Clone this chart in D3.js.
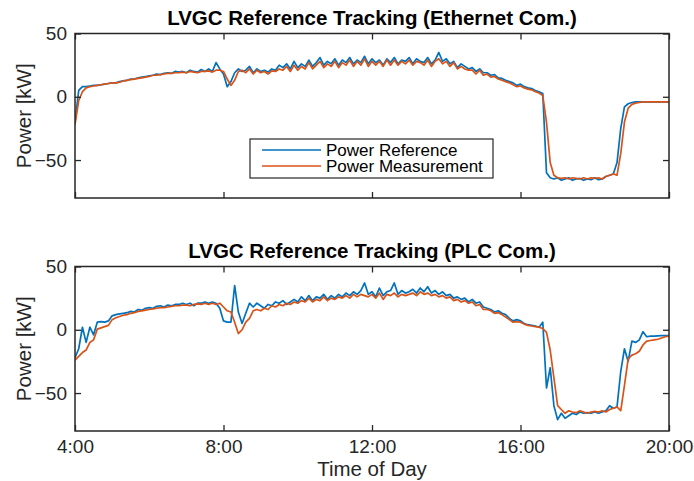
<!DOCTYPE html>
<html>
<head>
<meta charset="utf-8">
<script src="https://cdn.jsdelivr.net/npm/d3@7"></script>
<style>
  body { margin: 0; background: #fff; }
  text { font-family: "Liberation Sans", Arial, sans-serif; }
</style>
</head>
<body>
<div id="chart"></div>
<script>
// sample times: every 6 minutes from 4:00 to 20:00 (hours)
var hours = d3.range(161).map(function (i) { return 4 + i / 10; });

var xTicks = [4, 8, 12, 16, 20];
var yTicks = [-50, 0, 50];
var seriesNames = ["Power Reference", "Power Measurement"];

// Ethernet com. panel
var refEth = [
  -20, 5, 8, 8, 8.5, 9, 9, 9.5, 10, 10.5,
  11, 11, 12, 12.5, 13, 14, 14, 15, 15.5, 16,
  16.5, 17, 18, 17.5, 18.5, 19, 18.5, 20, 19.5, 20,
  19, 21, 20, 19.5, 21.5, 20, 22, 20, 27, 22,
  18, 8, 12, 19, 22, 20, 21, 24, 19, 22,
  20, 21, 19.5, 22, 21, 25, 23, 26, 22, 28,
  23, 26, 24, 29, 24, 27, 31, 25, 28, 26,
  30, 25, 29, 27, 31, 26, 29, 27, 32, 26,
  30, 27, 29, 25, 30, 27, 31, 26, 29, 28,
  31, 26, 30, 28, 27, 31, 26, 29, 35, 28,
  30, 26, 28, 23, 26, 24, 22, 23, 20, 22,
  19, 19, 17, 17.5, 15, 14.5, 13, 12, 11, 9,
  10, 8, 7, 6.5, 5, 4, 2.5, -60, -64, -65,
  -64, -66, -65, -64, -66, -65, -64.5, -66, -65, -65.5,
  -64, -65.5, -65, -63, -62, -61, -52, -25, -8, -5.5,
  -4.5, -4, -4, -4, -4, -4, -4, -4, -4, -4,
  -4
];
var measEth = [
  -22, -3, 4, 7, 8, 8.5, 9, 9.5, 10, 10.5,
  11, 11, 11.5, 12.5, 13, 13.5, 14, 14.5, 15, 15.5,
  16, 17, 17, 17.5, 18, 18.5, 18.5, 19, 19, 19.5,
  19, 20, 19.5, 19, 20, 20, 20.5, 19.5, 21, 21,
  20, 14, 9, 13, 20, 21, 19, 22, 18, 21,
  19, 20, 18, 20.5, 20, 22, 21, 24, 20, 25,
  21, 24, 22, 27, 22, 25, 28, 23, 26, 24,
  28, 23, 27, 25, 29, 24, 28, 25, 30, 24,
  28, 25, 28, 24, 29, 25, 29, 25, 28, 26,
  29, 25, 28, 27, 25, 29, 24, 28, 30, 26,
  28, 24, 27, 22, 24, 22, 21, 21, 18, 21,
  17, 18, 15.5, 16, 14, 13, 12, 11, 9.5, 8,
  8.5, 7, 6, 5.5, 4, 3, 1, -20, -52, -62,
  -64, -64.5, -64, -65, -64, -64.5, -65, -64, -65, -64,
  -64.5, -64, -65, -63, -62, -61, -62, -45, -20, -9,
  -6, -5, -4.5, -4, -4, -4, -4, -4, -4, -4,
  -4
];

// PLC com. panel
var refPlc = [
  -22, -15, 2, -10, 2, -4, 6, 6.5, 6, 7,
  11, 12, 12.5, 13, 13.5, 14.5, 14, 16, 15.5, 17,
  17.5, 17, 18.5, 19, 18, 19.5, 19, 20, 20, 21,
  20, 21, 19, 21, 21, 22, 21, 22, 21, 17,
  7, 6, 6, 35, 14, 5, 13, 21, 18, 21,
  19, 17, 20, 19, 22, 21, 23, 20, 22, 24,
  22, 26, 23, 27, 23, 26, 25, 28, 24, 27,
  25, 28, 26, 29, 27, 30, 28, 31, 37, 28,
  30, 26, 33, 27, 30, 31, 37, 28, 31, 29,
  30, 32, 29, 33, 30, 34, 29, 31, 28, 30,
  27, 28, 25, 26, 24, 25, 22, 24, 21, 22,
  18, 17, 16, 14, 15, 13, 12, 9, 7, 8,
  7, 5, 4, 3.5, 3, 2, 6, -46, -30, -60,
  -71, -66, -70, -68, -66, -67, -65, -66, -65.5, -66,
  -65, -66, -65, -64, -60, -62, -61, -33, -15, -25,
  -9, -10, -8, -1.5, -5.5, -5, -5, -4.8, -4.7, -4.7,
  -4.7
];
var measPlc = [
  -24, -21, -18, -16, -10, -8, 0.5, 1.5, 2.5, 3.5,
  8, 9.5, 10.5, 11.5, 12, 13, 13.5, 14.5, 15, 15.5,
  16, 16.5, 17, 17.5, 17.5, 18, 18.5, 19, 19, 19.5,
  19.5, 19, 20, 20.5, 20, 21, 20, 21, 20, 21,
  18, 15, 14, 6, -3, 0, 6, 9, 15, 16,
  15, 17, 16, 19, 18, 20, 19, 21, 20, 22,
  21, 23, 22, 25, 22, 24, 23, 26, 23, 25,
  24, 26, 25, 27, 25, 28, 26, 28, 27, 26,
  28, 25, 29, 24, 28, 27, 29, 26, 28, 27,
  28, 29, 27, 30, 28, 29, 27, 28, 26, 27,
  25, 26, 23, 24, 22, 23, 21, 22, 19, 20,
  16, 16, 15, 13, 13.5, 12, 10, 8, 6, 6.5,
  6, 4.5, 3.5, 3, 2.5, 2, 1, -2, -16, -38,
  -60, -63, -66, -64, -65, -65.5, -64, -65, -66, -65,
  -64.5, -65, -64, -65, -63, -62, -61, -64, -44, -23,
  -20, -19, -17, -12, -9, -8.5, -8, -7.5, -6.5, -5.5,
  -5
];

var panels = [
  { title: "LVGC Reference Tracking (Ethernet Com.)", ref: refEth, meas: measEth, top: 33.5, showX: false, legend: true },
  { title: "LVGC Reference Tracking (PLC Com.)", ref: refPlc, meas: measPlc, top: 266.5, showX: true, legend: false }
];

var W = 694, H = 481;
var left = 75, right = 669, ph = 164.5;
var axisColor = "#262626";
var colors = ["#0072BD", "#D95319"];

var svg = d3.select("#chart").append("svg")
  .attr("width", W)
  .attr("height", H);

var x = d3.scaleLinear().domain([4, 20]).range([left, right]);

panels.forEach(function (p, k) {
  var y = d3.scaleLinear().domain([-80, 50]).range([p.top + ph, p.top]);
  var g = svg.append("g");

  g.append("clipPath").attr("id", "clip" + k)
    .append("rect").attr("x", left).attr("y", p.top).attr("width", right - left).attr("height", ph);

  var line = d3.line()
    .x(function (d, i) { return x(hours[i]); })
    .y(function (d) { return y(d); });

  [p.ref, p.meas].forEach(function (s, j) {
    g.append("path")
      .datum(s)
      .attr("clip-path", "url(#clip" + k + ")")
      .attr("fill", "none")
      .attr("stroke", colors[j])
      .attr("stroke-width", 1.7)
      .attr("stroke-linejoin", "round")
      .attr("d", line);
  });

  // axes, ticks pointing inward
  var bottom = g.append("g")
    .attr("transform", "translate(0," + (p.top + ph) + ")")
    .call(d3.axisBottom(x).tickValues(xTicks).tickSizeInner(-6).tickSizeOuter(0).tickPadding(9)
      .tickFormat(function (d) { return p.showX ? d + ":00" : ""; }));
  g.append("g")
    .attr("transform", "translate(0," + p.top + ")")
    .call(d3.axisTop(x).tickValues(xTicks).tickSizeInner(-6).tickSizeOuter(0).tickFormat(""));
  g.append("g")
    .attr("transform", "translate(" + left + ",0)")
    .call(d3.axisLeft(y).tickValues(yTicks).tickSizeInner(-6).tickSizeOuter(0).tickPadding(8));
  g.append("g")
    .attr("transform", "translate(" + right + ",0)")
    .call(d3.axisRight(y).tickValues(yTicks).tickSizeInner(-6).tickSizeOuter(0).tickFormat(""));

  g.selectAll(".domain").remove();
  g.selectAll(".tick line").attr("stroke", axisColor).attr("stroke-width", 1.3);
  g.selectAll(".tick text").attr("fill", axisColor).style("font-size", "19px")
    .style("font-family", "'Liberation Sans', Arial, sans-serif");

  g.append("rect")
    .attr("x", left).attr("y", p.top)
    .attr("width", right - left).attr("height", ph)
    .attr("fill", "none")
    .attr("stroke", axisColor)
    .attr("stroke-width", 1.5);

  g.append("text")
    .attr("x", (left + right) / 2)
    .attr("y", p.top - 9)
    .attr("text-anchor", "middle")
    .attr("font-weight", "bold")
    .style("font-size", "20.5px")
    .attr("fill", "#000")
    .text(p.title);

  g.append("text")
    .attr("transform", "translate(31," + (p.top + ph / 2) + ") rotate(-90)")
    .attr("text-anchor", "middle")
    .style("font-size", "20.5px")
    .attr("fill", axisColor)
    .text("Power [kW]");

  if (p.showX) {
    g.append("text")
      .attr("x", (left + right) / 2)
      .attr("y", 476)
      .attr("text-anchor", "middle")
      .style("font-size", "20.5px")
      .attr("fill", axisColor)
      .text("Time of Day");
  }

  if (p.legend) {
    var lg = g.append("g").attr("transform", "translate(250,139)");
    lg.append("rect")
      .attr("width", 243).attr("height", 39)
      .attr("fill", "#fff")
      .attr("stroke", axisColor)
      .attr("stroke-width", 1.2);
    seriesNames.forEach(function (name, j) {
      lg.append("line")
        .attr("x1", 12).attr("x2", 71)
        .attr("y1", 11 + j * 16).attr("y2", 11 + j * 16)
        .attr("stroke", colors[j])
        .attr("stroke-width", 1.7);
      lg.append("text")
        .attr("x", 76).attr("y", 17 + j * 16)
        .style("font-size", "17px")
        .attr("fill", "#000")
        .text(name);
    });
  }
});
</script>
</body>
</html>
